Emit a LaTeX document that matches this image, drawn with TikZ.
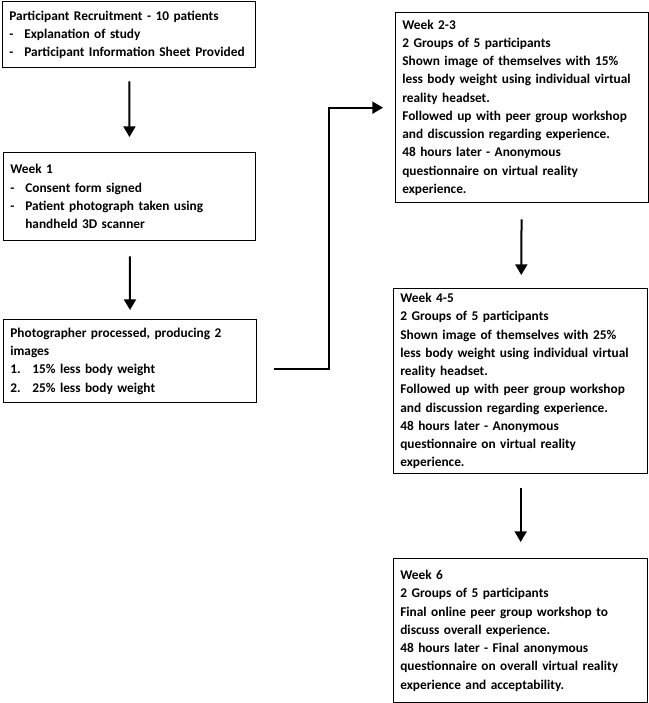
\documentclass[tikz,border=0pt]{standalone}
\usepackage{fontspec}
\setmainfont{Carlito}
\usepackage{tikz}
\usetikzlibrary{arrows.meta}
\hyphenpenalty=10000
\exhyphenpenalty=10000
\tikzset{wbox/.style={draw,line width=1pt,anchor=north west,inner xsep=5pt,inner ysep=2pt,align=left,font=\fontsize{10}{13.7}\selectfont\bfseries}}
\tikzset{wboxr/.style={wbox,execute at begin node={\rightskip=4.5pt plus 2em\relax}}}
\tikzset{warrow/.style={-{Triangle[width=9pt,length=8pt]},line width=1.5pt}}
\newcommand{\dashitem}[1]{\par\hangindent=11.25pt\hangafter=1\noindent\makebox[11.25pt][l]{-}#1\par}
\newcommand{\numitem}[2]{\par\hangindent=16.5pt\hangafter=1\noindent\makebox[16.5pt][l]{#1}#2\par}

\begin{document}
\begin{tikzpicture}[x=0.75pt,y=-0.75pt]
            \useasboundingbox (0,0) rectangle (649,703);
            % left column
            \node[wbox,text width=179.75pt,minimum height=49.5pt] (recruit) at (2,1)
                {Participant Recruitment - 10 patients
                 \dashitem{Explanation of study}
                 \dashitem{Participant Information Sheet Provided}};
            \node[wbox,text width=179pt,minimum height=66pt] (week1) at (3,152)
                {Week 1
                 \dashitem{Consent form signed}
                 \dashitem{Patient photograph taken using handheld 3D scanner}};
            \node[wbox,text width=179.75pt,minimum height=62.25pt] (photo) at (3,319)
                {Photographer processed, producing 2 images
                 \numitem{1.}{15\% less body weight}
                 \numitem{2.}{25\% less body weight}};

            % right column
            \node[wboxr,text width=179.75pt,minimum height=142.5pt] (week23) at (395,12)
                {Week 2-3\\
                 2 Groups of 5 participants\\
                 Shown image of themselves with 15\% less body weight using individual virtual reality headset.\\
                 Followed up with peer group workshop and discussion regarding experience.\\
                 48 hours later - Anonymous questionnaire on virtual reality experience.};
            \node[wboxr,text width=180.5pt,minimum height=138.75pt] (week45) at (393,288)
                {Week 4-5\\
                 2 Groups of 5 participants\\
                 Shown image of themselves with 25\% less body weight using individual virtual reality headset.\\
                 Followed up with peer group workshop and discussion regarding experience.\\
                 48 hours later - Anonymous questionnaire on virtual reality experience.};
            \node[wboxr,text width=180.5pt,minimum height=108pt] (week6) at (393,558)
                {Week 6\\
                 2 Groups of 5 participants\\
                 Final online peer group workshop to discuss overall experience.\\
                 48 hours later - Final anonymous questionnaire on overall virtual reality experience and acceptability.};

            % draw the arrows
            \draw[warrow,shorten <=9.75pt,shorten >=11.25pt] (recruit) -- (week1);
            \draw[warrow,shorten <=11.25pt,shorten >=6.75pt] (week1) -- (photo);
            \draw[warrow,shorten >=9pt] ([shift={(17,7.5)}]photo.east) -- ++(55,0) |- (week23.west);
            \draw[warrow,shorten <=12pt,shorten >=9.75pt] (week23) -- (week45);
            \draw[warrow,shorten <=10.5pt,shorten >=12pt] (week45) -- (week6);
        \end{tikzpicture}
\end{document}
